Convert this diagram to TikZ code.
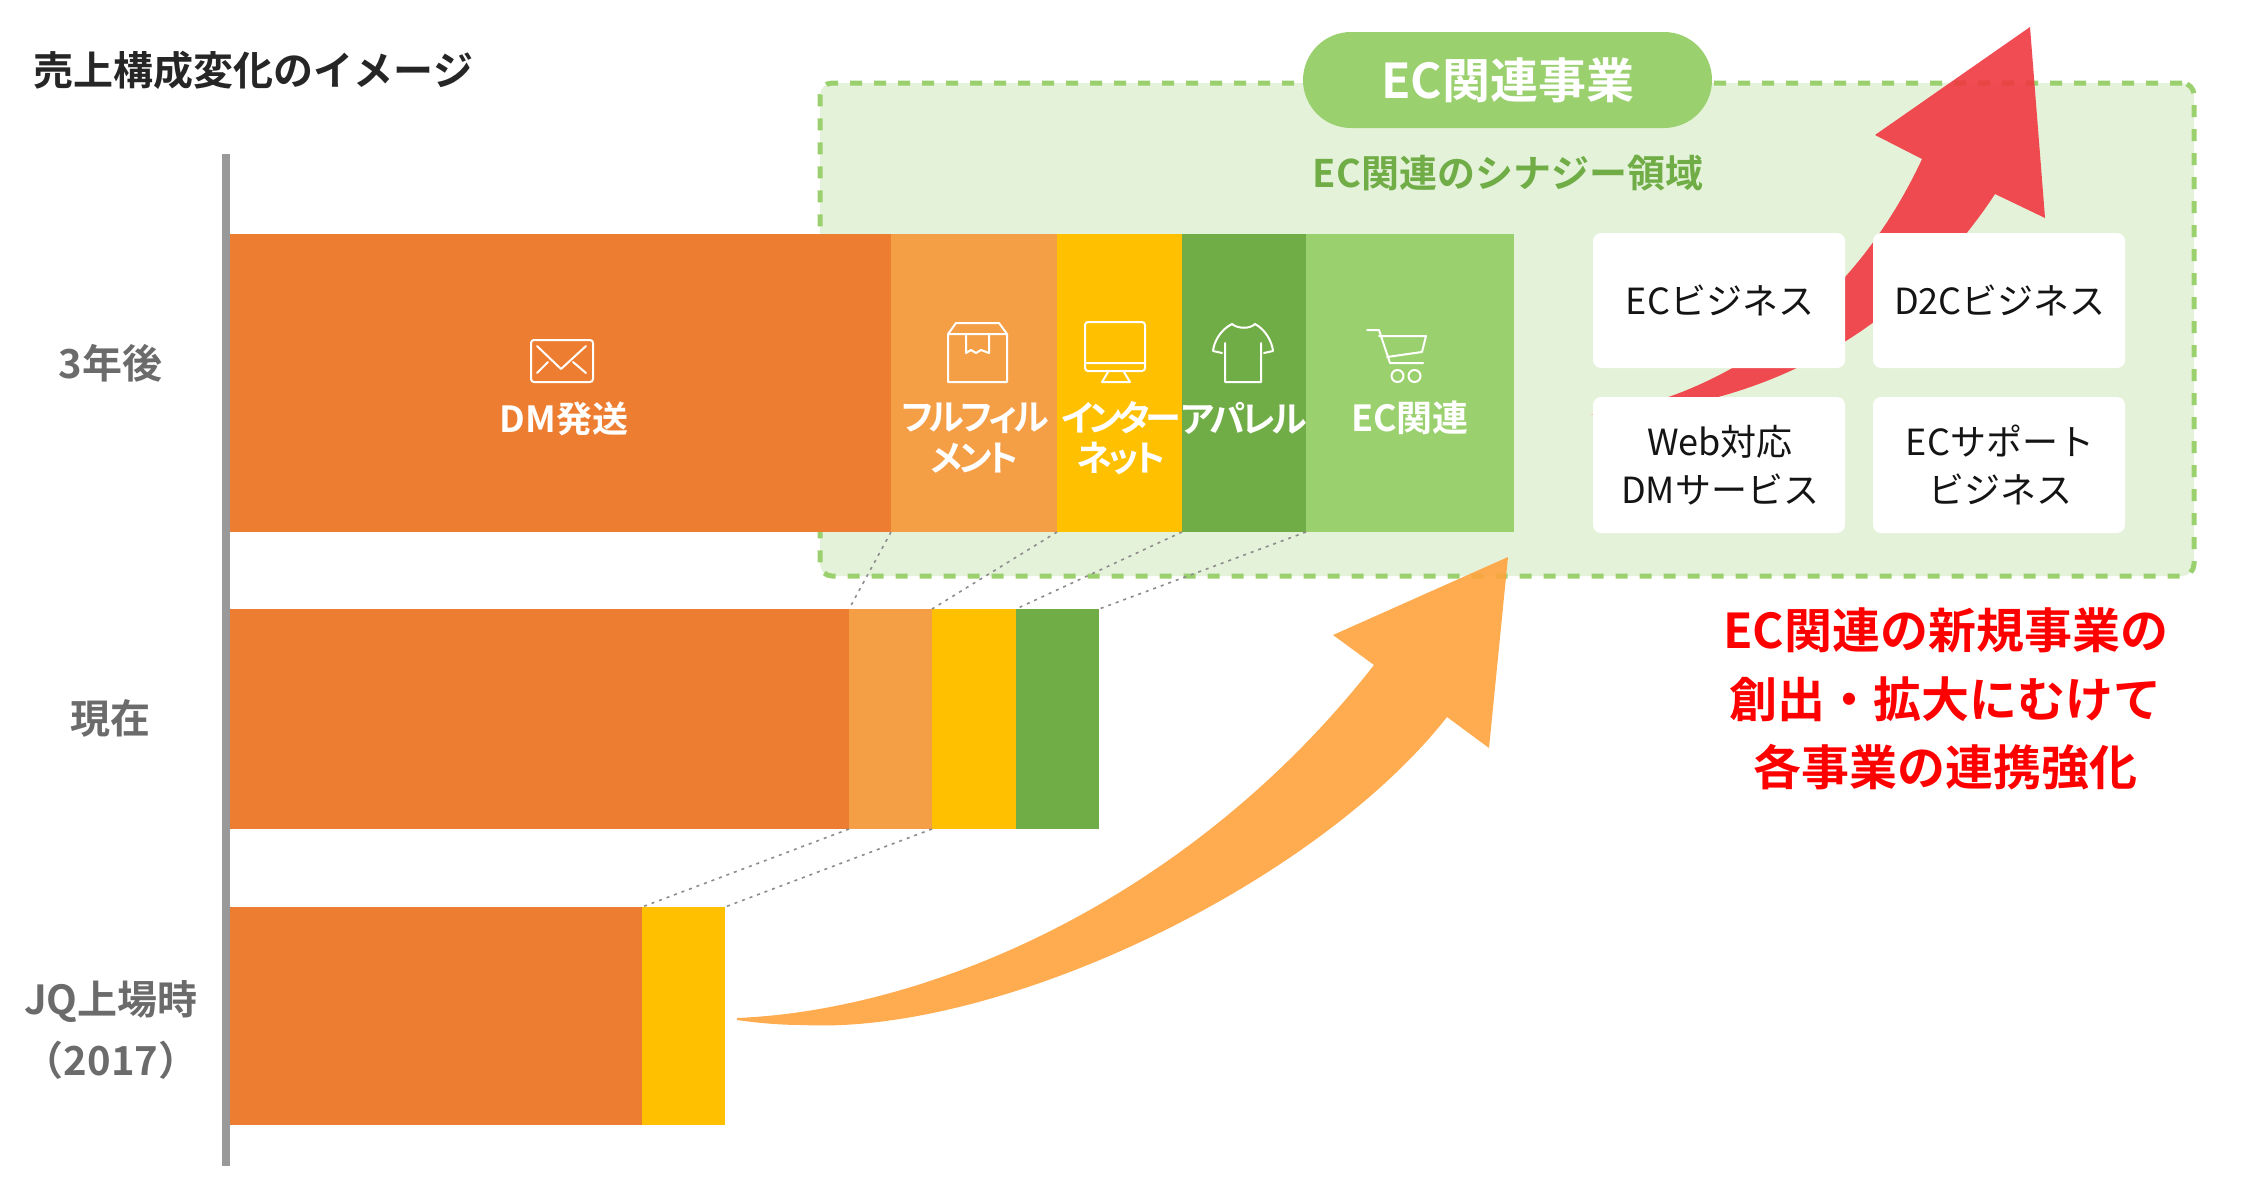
\documentclass[tikz,border=0pt]{standalone}
\usepackage{fontspec}
\setmainfont{Noto Sans CJK JP}[BoldFont={Noto Sans CJK JP Bold}]
\newfontfamily\jptight{Noto Sans CJK JP}[BoldFont={Noto Sans CJK JP Bold},RawFeature=+palt,LetterSpace=-10]
\newfontfamily\jptighter{Noto Sans CJK JP}[BoldFont={Noto Sans CJK JP Bold},RawFeature=+palt,LetterSpace=-13]
\definecolor{cOrange}{HTML}{ED7D31}
\definecolor{cLightOrange}{HTML}{F49E46}
\definecolor{cYellow}{HTML}{FFC000}
\definecolor{cGreen}{HTML}{70AD47}
\definecolor{cLightGreen}{HTML}{9BD06F}
\definecolor{cPale}{HTML}{E5F2DA}
\definecolor{cGrey}{HTML}{6B6B6B}
\definecolor{cRedArrow}{HTML}{F03840}
\definecolor{cOrangeArrow}{HTML}{FFA33E}
\newcommand{\fs}[1]{\fontsize{#1}{#1}\selectfont}
\newcommand{\seg}[6]{\node[seg,fill=#6,minimum width={(#4-#2)*0.5pt},minimum height={(#5-#3)*0.5pt}] (#1) at ({(#2+#4)/2},{(#3+#5)/2}) {};}
\newcommand{\card}[6]{\node[card,minimum width={(#4-#2)*0.5pt},minimum height={(#5-#3)*0.5pt}] (#1) at ({(#2+#4)/2},{(#3+#5)/2}) {#6};}
\tikzset{
  seg/.style={inner sep=0pt,outer sep=0pt,draw=none},
  card/.style={inner sep=0pt,outer sep=0pt,fill=white,rounded corners=4pt,align=center,text=black!92,font=\fs{18pt}},
  link/.style={draw=gray!90,line width=0.8pt,dash pattern=on 1.5pt off 2.5pt},
  barlabel/.style={text=white,font=\jptight\bfseries\fs{18pt},inner sep=0pt},
  rowlabel/.style={text=cGrey,font=\bfseries\fs{20pt},inner sep=0pt},
  redlabel/.style={text=red,font=\bfseries\fs{24pt},inner sep=0pt},
  icon/.style={draw=white,line width=1pt,line join=round,line cap=round}
}
\begin{document}
\begin{tikzpicture}[x=0.5pt,y=-0.5pt]
\useasboundingbox (0,0) rectangle (2252,1194);
% synergy area
\node[draw=cLightGreen,fill=cPale,line width=2.5pt,dash pattern=on 6pt off 6pt,rounded corners=6pt,inner sep=0pt,minimum width=687pt,minimum height=246.5pt] (area) at (1507,329.5) {};
\node[fill=cLightGreen,rounded corners=24pt,inner sep=0pt,minimum width=204.5pt,minimum height=48pt,text=white,font=\bfseries\fs{24pt}] (pill) at (1507.5,80) {\raisebox{0.7pt}{EC関連事業}};
\node[text=cGreen,font=\bfseries\fs{19pt},inner sep=0pt] (areatitle) at (1508,173) {EC関連のシナジー領域};
% red arrow
\fill[cRedArrow,opacity=0.9] (1590,415) .. controls (1690,405) and (1840,335) .. (1922,159) -- (1875,135) -- (2030,27) -- (2045,218) -- (1995,194) .. controls (1952,260) and (1830,410) .. (1590,415) -- cycle;
% cards
\card{c1}{1593}{233}{1845}{368}{\hspace{3pt}ECビジネス\hspace{2pt}}
\card{c2}{1873}{233}{2125}{368}{\hspace{1pt}D2Cビジネス}
\card{c3}{1593}{397}{1845}{533}{\raisebox{1pt}{\hspace{1pt}Web対応}\\[6pt]\raisebox{1pt}{\hspace{1pt}DMサービス}}
\card{c4}{1873}{397}{2125}{533}{\raisebox{1pt}{\hspace{1pt}ECサポート}\\[6pt]\raisebox{1pt}{\hspace{1pt}ビジネス}}
% axis
\fill[gray!80] (222,154) rectangle (230,1166);
% bars
\seg{t1}{230}{234}{891}{532}{cOrange}
\seg{t2}{891}{234}{1057}{532}{cLightOrange}
\seg{t3}{1057}{234}{1182}{532}{cYellow}
\seg{t4}{1182}{234}{1306}{532}{cGreen}
\seg{t5}{1306}{234}{1514}{532}{cLightGreen}
\seg{m1}{230}{609}{849}{829}{cOrange}
\seg{m2}{849}{609}{932}{829}{cLightOrange}
\seg{m3}{932}{609}{1016}{829}{cYellow}
\seg{m4}{1016}{609}{1099}{829}{cGreen}
\seg{b1}{230}{907}{642}{1125}{cOrange}
\seg{b3}{642}{907}{725}{1125}{cYellow}
% links
\draw[link] (t1.south east) -- (m1.north east);
\draw[link] (t2.south east) -- (m2.north east);
\draw[link] (t3.south east) -- (m3.north east);
\draw[link] (t4.south east) -- (m4.north east);
\draw[link] (m1.south east) -- (b1.north east);
\draw[link] (m2.south east) -- (b3.north east);
% orange arrow
\fill[cOrangeArrow,opacity=0.9] (737,1018) .. controls (930,1010) and (1190,900) .. (1374,665) -- (1333,635) -- (1508,557) -- (1489,748) -- (1447,717) .. controls (1315,885) and (1000,1035) .. (803,1025) .. controls (780,1025) and (758,1023) .. (737,1020) -- cycle;
% titles and row labels
\node[anchor=west,font=\bfseries\fs{20pt},inner sep=0pt,text=black!85] (title) at (33.5,70) {売上構成変化のイメージ};
\node[rowlabel] (r1) at (110.5,363) {3年後};
\node[rowlabel] (r2) at (110.5,718) {現在};
\node[rowlabel] (r3a) at (111,1002) {JQ上場時};
\node[rowlabel] (r3b) at (111,1060) {（2017）};
% bar labels
\node[barlabel,font=\bfseries\fs{18pt}] (l1) at (564,419) {DM発送};
\node[barlabel] (l2a) at (975,418) {フルフィル};
\node[barlabel] (l2b) at (975,458) {メント};
\node[barlabel,font=\jptighter\bfseries\fs{18pt}] (l3a) at (1121,418) {インター};
\node[barlabel] (l3b) at (1121,458) {ネット};
\node[barlabel] (l4) at (1244,418) {アパレル};
\node[barlabel,font=\bfseries\fs{18pt}] (l5) at (1410,418) {EC関連};
% icons
\begin{scope}[xshift=0.5pt]
\draw[icon,rounded corners=1.5pt] (530,340) rectangle (592,382);
\draw[icon] (536,346) -- (560,369) -- (585,346) (536,373) -- (547,362) (585,373) -- (572,362);
\draw[icon] (947,334) -- (955,323) -- (998,323) -- (1006,334) -- (1006,382) -- (947,382) -- cycle (947,334) -- (1006,334);
\draw[icon] (965,334) -- (965,353) -- (970,350) -- (975,353) -- (980,350) -- (988,353) -- (988,334);
\end{scope}
\draw[icon,rounded corners=1.5pt] (1085,322) rectangle (1145,371);
\draw[icon] (1085,363) -- (1145,363) (1108,372) -- (1102,382) -- (1130,382) -- (1124,372);
\draw[icon] (1232,324) .. controls (1238,329) and (1250,329) .. (1255,324) .. controls (1266,330) and (1272,342) .. (1273,351) -- (1264,353) (1261,343) -- (1261,382) -- (1225,382) -- (1225,343) (1222,353) -- (1213,351) .. controls (1214,342) and (1220,330) .. (1232,324);
\draw[icon] (1367,330) -- (1379,330) -- (1390,363) -- (1423,363) (1379,336) -- (1426,336) -- (1422,352) -- (1387,357);
\draw[icon] (1397.5,376) circle (6) (1414.5,376) circle (6);
% red text
\node[redlabel] (n1) at (1945.5,630) {EC関連の新規事業の};
\node[redlabel] (n2) at (1945.5,699) {創出・拡大にむけて};
\node[redlabel] (n3) at (1945.5,767) {各事業の連携強化};
\end{tikzpicture}
\end{document}
